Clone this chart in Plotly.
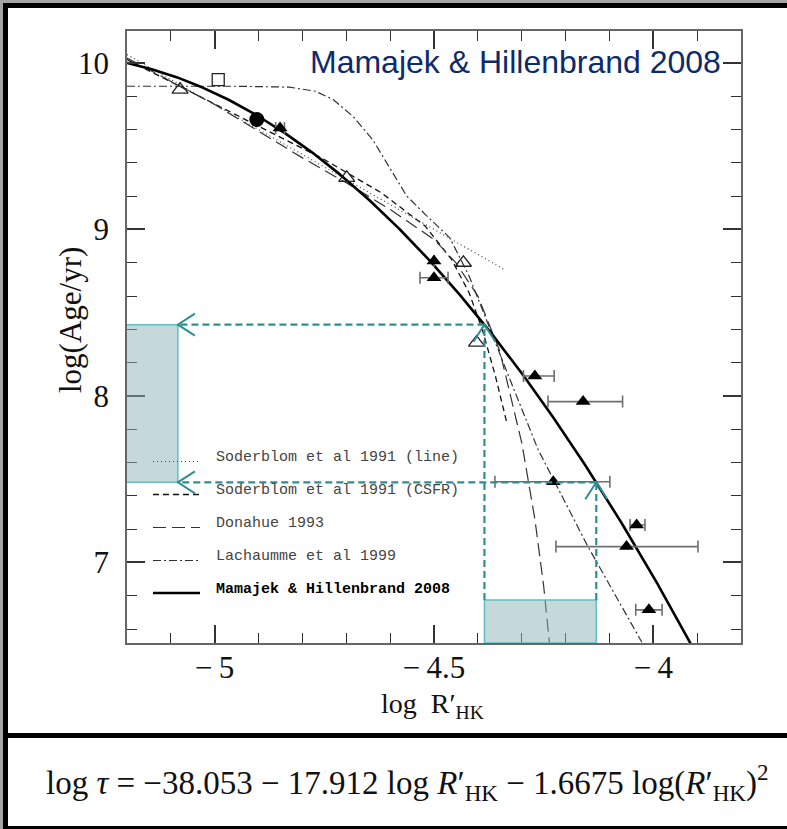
import numpy as np
import plotly.graph_objects as go

# ---------------------------------------------------------------- data
# Mamajek & Hillenbrand (2008) activity-age relation (coefficients as printed)
MH_A, MH_B, MH_C = -38.053, -17.912, -1.6675

sod_line_x = [-5.2, -4.34]
sod_line_y = [10.05, 8.76]

csfr_x = [-5.2, -5.05, -4.9, -4.75, -4.62, -4.52, -4.46, -4.42, -4.39, -4.36, -4.335]
csfr_y = [10.02, 9.82, 9.62, 9.42, 9.22, 9.02, 8.82, 8.62, 8.40, 8.12, 7.85]

donahue_x = [-5.2, -5.1, -5.0, -4.9, -4.8, -4.7, -4.6, -4.5, -4.45, -4.4, -4.35,
             -4.3, -4.27, -4.25, -4.237]
donahue_y = [10.03, 9.89, 9.75, 9.59, 9.43, 9.28, 9.12, 8.94, 8.80, 8.60, 8.27,
             7.72, 7.26, 6.86, 6.52]

lach_x = [-5.2, -4.95, -4.83, -4.77, -4.73, -4.685, -4.64, -4.594, -4.562, -4.516,
          -4.464, -4.42, -4.38, -4.33, -4.263, -4.15, -4.026]
lach_y = [9.86, 9.86, 9.855, 9.83, 9.78, 9.68, 9.54, 9.34, 9.20, 9.08,
          8.95, 8.72, 8.45, 8.12, 7.68, 7.10, 6.52]

sq_x, sq_y = [-4.992], [9.90]
otri_x = [-5.079, -4.699, -4.433, -4.403]
otri_y = [9.84, 9.31, 8.80, 8.32]
circ_x, circ_y = [-4.904], [9.66]

tri_x = [-4.851, -4.50, -4.50, -4.27, -4.16, -4.228, -4.038, -4.061, -4.010]
tri_y = [9.61, 8.81, 8.71, 8.12, 7.966, 7.485, 7.225, 7.095, 6.715]
tri_em = [0.010, 0.0, 0.032, 0.026, 0.080, 0.133, 0.015, 0.161, 0.030]
tri_ep = [0.010, 0.0, 0.032, 0.044, 0.090, 0.129, 0.019, 0.163, 0.030]

# highlighted activity range
R_LO, R_HI = -4.385, -4.13

legend_names = ["Soderblom et al 1991 (line)", "Soderblom et al 1991 (CSFR)",
                "Donahue 1993", "Lachaumme et al 1999", "Mamajek & Hillenbrand 2008"]

x_ticks = [-5, -4.5, -4]
x_labels = ["\u2212\u20095", "\u2212\u20094.5", "\u2212\u20094"]
y_ticks = [7, 8, 9, 10]

# ---------------------------------------------------------------- layout geometry
W, H = 787, 829
ML, MR, MT, MB = 127, 46, 31, 186
PW, PH = W - ML - MR, H - MT - MB
X_RANGE = [-5.2, -3.8]
Y_RANGE = [6.516, 10.192]


def pxx(p):  # page pixel -> paper x
    return (p - ML) / PW


def pxy(p):  # page pixel -> paper y
    return (H - MB - p) / PH


def mh(x):
    x = np.asarray(x, dtype=float)
    return MH_A + MH_B * x + MH_C * x ** 2


mh_x = np.linspace(-5.2, -3.9, 300)
mh_y = mh(mh_x)
AGE_HI, AGE_LO = float(mh(R_LO)), float(mh(R_HI))

styles = [
    dict(color="#444", width=1.2, dash="1px,3px"),
    dict(color="#111", width=1.3, dash="6px,4px"),
    dict(color="#333", width=1.2, dash="13px,6px"),
    dict(color="#333", width=1.2, dash="8px,3px,2px,3px"),
    dict(color="#000", width=2.6),
]

fig = go.Figure()
for xs, ys, st in [(sod_line_x, sod_line_y, styles[0]), (csfr_x, csfr_y, styles[1]),
                   (donahue_x, donahue_y, styles[2]), (lach_x, lach_y, styles[3]),
                   (mh_x, mh_y, styles[4])]:
    fig.add_trace(go.Scatter(x=xs, y=ys, mode="lines", line=st, showlegend=False,
                             hoverinfo="skip"))

fig.add_trace(go.Scatter(x=sq_x, y=sq_y, mode="markers", showlegend=False,
                         marker=dict(symbol="square-open", size=12,
                                     color="#222", line=dict(width=1.3))))
fig.add_trace(go.Scatter(x=otri_x, y=otri_y, mode="markers", showlegend=False,
                         marker=dict(symbol="triangle-up-open", size=14,
                                     color="#222", line=dict(width=1.3))))
fig.add_trace(go.Scatter(x=circ_x, y=circ_y, mode="markers", showlegend=False,
                         marker=dict(symbol="circle", size=15, color="#000")))
fig.add_trace(go.Scatter(x=tri_x, y=tri_y, mode="markers", showlegend=False,
                         marker=dict(symbol="triangle-up", size=13, color="#000"),
                         error_x=dict(type="data", symmetric=False, array=tri_ep,
                                      arrayminus=tri_em, color="#6f6f6f",
                                      thickness=1.6, width=6)))

TEAL = "#2f8e92"
TEAL_EDGE = "#62bfc2"
FILL = "rgba(140,178,181,0.5)"
shapes = []

# page frame
shapes += [
    dict(type="rect", xref="paper", yref="paper", x0=pxx(0), x1=pxx(W + 5),
         y0=pxy(H + 5), y1=pxy(0), fillcolor="#a4a4a4", line_width=0, layer="below"),
    dict(type="rect", xref="paper", yref="paper", x0=pxx(3), x1=pxx(W + 5),
         y0=pxy(H + 5), y1=pxy(3), fillcolor="#000", line_width=0, layer="below"),
    dict(type="rect", xref="paper", yref="paper", x0=pxx(8), x1=pxx(W + 5),
         y0=pxy(733), y1=pxy(8), fillcolor="#fff", line_width=0, layer="below"),
    dict(type="rect", xref="paper", yref="paper", x0=pxx(8), x1=pxx(W + 5),
         y0=pxy(826), y1=pxy(738), fillcolor="#fff", line_width=0, layer="below"),
]

# highlighted ranges
shapes += [
    dict(type="rect", xref="x", yref="y", x0=-5.205, x1=-5.084, y0=AGE_LO, y1=AGE_HI,
         fillcolor=FILL, line=dict(color=TEAL_EDGE, width=1.5), layer="above"),
    dict(type="rect", xref="x", yref="y", x0=R_LO, x1=R_HI, y0=Y_RANGE[0], y1=6.775,
         fillcolor=FILL, line=dict(color=TEAL_EDGE, width=1.5), layer="above"),
]
dash_line = dict(color=TEAL, width=2.2, dash="7px,4px")
for r, age in [(R_LO, AGE_HI), (R_HI, AGE_LO)]:
    shapes.append(dict(type="line", xref="x", yref="y", x0=r, x1=r, y0=6.775, y1=age,
                       line=dash_line, layer="above"))
    shapes.append(dict(type="line", xref="x", yref="y", x0=r, x1=-5.084, y0=age, y1=age,
                       line=dash_line, layer="above"))
    # open chevron heads (pixel-sized, anchored in data space)
    shapes.append(dict(type="path", xref="x", yref="y", xsizemode="pixel",
                       ysizemode="pixel", xanchor=r, yanchor=age,
                       path="M -11 -17 L 0 0 L 11 -17",
                       line=dict(color=TEAL, width=2), layer="above"))
    shapes.append(dict(type="path", xref="x", yref="y", xsizemode="pixel",
                       ysizemode="pixel", xanchor=-5.084, yanchor=age,
                       path="M 17 11 L 0 0 L 17 -11",
                       line=dict(color=TEAL, width=2), layer="above"))

# legend key
leg_rows = [461.5, 494.5, 527.5, 560.5, 593]
for i, yrow in enumerate(leg_rows):
    shapes.append(dict(type="line", xref="paper", yref="paper", x0=pxx(153), x1=pxx(200),
                       y0=pxy(yrow), y1=pxy(yrow), line=styles[i], layer="above"))

annotations = []
for i, (yrow, name) in enumerate(zip(leg_rows, legend_names)):
    bold = i == 4
    annotations.append(dict(
        xref="paper", yref="paper", x=pxx(214), y=pxy(yrow - 4), xanchor="left",
        yanchor="middle", showarrow=False,
        text=f"<b>{name}</b>" if bold else name,
        font=dict(family="Liberation Mono", size=15, color="#000" if bold else "#444")))

annotations += [
    dict(xref="paper", yref="paper", x=pxx(723), y=pxy(62), xanchor="right",
         yanchor="middle", showarrow=False, text="Mamajek & Hillenbrand 2008",
         font=dict(family="Liberation Sans", size=32, color="#0c2a6c")),
    dict(xref="paper", yref="paper", x=pxx(70), y=pxy(320), xanchor="center",
         yanchor="middle", showarrow=False, textangle=-90, text="log(Age/yr)",
         font=dict(family="Liberation Serif", size=31, color="#111")),
    dict(xref="paper", yref="paper", x=pxx(432), y=pxy(705), xanchor="center",
         yanchor="middle", showarrow=False, text="log  R\u2032<sub>HK</sub>",
         font=dict(family="Liberation Serif", size=28, color="#111")),
    dict(xref="paper", yref="paper", x=pxx(407), y=pxy(782), xanchor="center",
         yanchor="middle", showarrow=False,
         text=("log <i>\u03c4</i> = \u221238.053 \u2212 17.912 log <i>R</i>\u2032<sub>HK</sub>"
               " \u2212 1.6675 log(<i>R</i>\u2032<sub>HK</sub>)<sup>2</sup>"),
         font=dict(family="Liberation Serif", size=33, color="#111")),
]

axis_common = dict(showgrid=False, zeroline=False, showline=True, linecolor="#666",
                   linewidth=1.6, mirror="allticks", ticks="inside", ticklen=18,
                   tickcolor="#333", tickwidth=1.5,
                   tickfont=dict(family="Liberation Serif", size=31, color="#111"))

fig.update_xaxes(range=X_RANGE, tickvals=x_ticks, ticktext=x_labels,
                 ticklabelstandoff=-4,
                 minor=dict(dtick=0.1, tick0=-5, ticks="inside", ticklen=10,
                            tickcolor="#333", tickwidth=1.3),
                 **axis_common)
fig.update_yaxes(range=Y_RANGE, tickvals=y_ticks, ticklabelstandoff=10,
                 minor=dict(dtick=0.2, tick0=7, ticks="inside", ticklen=10,
                            tickcolor="#333", tickwidth=1.3),
                 **axis_common)

fig.update_layout(width=W, height=H, margin=dict(l=ML, r=MR, t=MT, b=MB),
                  paper_bgcolor="#fff", plot_bgcolor="rgba(0,0,0,0)",
                  shapes=shapes, annotations=annotations, showlegend=False)

fig.write_html("out.html")
